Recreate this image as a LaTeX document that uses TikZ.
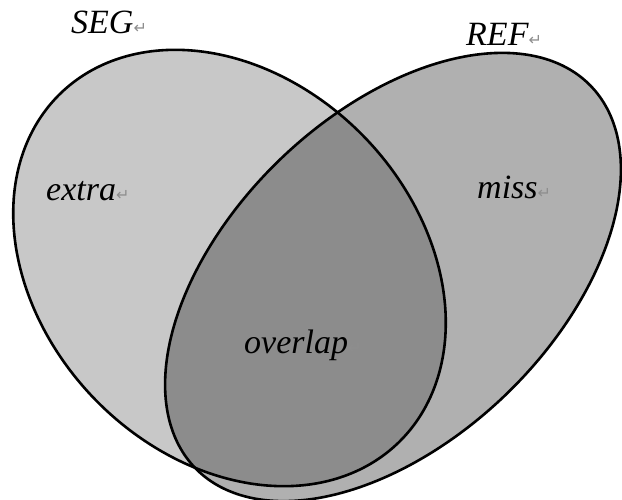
\documentclass[tikz,border=0pt]{standalone}
\usepackage{fontspec}
\setmainfont{Liberation Serif}
\newfontfamily\symfont{DejaVu Sans}

\definecolor{segfill}{HTML}{C8C8C8}
\definecolor{reffill}{HTML}{B0B0B0}
\definecolor{bothfill}{HTML}{8C8C8C}
\definecolor{markgray}{HTML}{8E8E8E}

\tikzset{
  outline/.style={draw=black, line width=2.6pt},
  setlabel/.style={anchor=base west, inner sep=0pt, font=\fontsize{34}{34}\selectfont\itshape},
}
\newcommand{\retmark}{{\symfont\fontsize{16}{16}\selectfont\color{markgray}↵}}

% tilted oval: centre (#1,#2), half axes #3 and #4, axis angle #5 (y grows downwards)
\newcommand{\tiltoval}[5]{plot[domain=0:360, samples=150, smooth, variable=\t]
  ({#1 + #3*cos(\t)*cos(#5) - #4*sin(\t)*sin(#5)},
   {#2 + #3*cos(\t)*sin(#5) + #4*sin(\t)*cos(#5)}) -- cycle}
\newcommand{\segpath}{\tiltoval{229.5}{268}{243}{188}{46}}
\newcommand{\refpath}{\tiltoval{393}{277}{275}{163}{-44}}

\begin{document}
\begin{tikzpicture}[x=1pt, y=-1pt]
  \useasboundingbox (0,0) rectangle (622,499);

  \fill[segfill] \segpath;
  \fill[reffill] \refpath;
  \begin{scope}
    \clip \segpath;
    \fill[bothfill] \refpath;
  \end{scope}
  \draw[outline] \segpath;
  \draw[outline] \refpath;

  \node[setlabel] (seg) at (71,33) {SEG\retmark};
  \node[setlabel] (ref) at (466,45) {REF\retmark};
  \node[setlabel] (extra) at (46,200) {extra\retmark};
  \node[setlabel] (miss) at (477,198) {miss\retmark};
  \node[setlabel] (overlap) at (244,353) {overlap\retmark};
\end{tikzpicture}
\end{document}
